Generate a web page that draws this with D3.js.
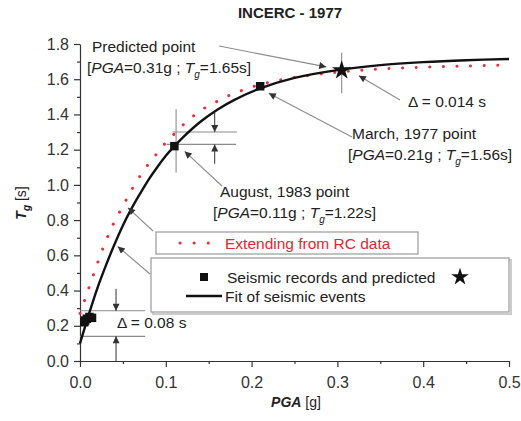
<!DOCTYPE html>
<html><head><meta charset="utf-8">
<script src="https://cdn.jsdelivr.net/npm/d3@7"></script>
<style>
body{margin:0;background:#fff;}
svg{display:block;font-family:"Liberation Sans",Arial,sans-serif;}
</style></head>
<body>
<svg id="chart" width="521" height="421"></svg>
<script>
// ---- data ----
const xTicks = [0.0, 0.1, 0.2, 0.3, 0.4, 0.5];
const yTicks = [0.0, 0.2, 0.4, 0.6, 0.8, 1.0, 1.2, 1.4, 1.6, 1.8];
const fitPGA = [0.0, 0.01, 0.02, 0.03, 0.04, 0.05, 0.06, 0.07, 0.08, 0.09, 0.10, 0.11, 0.12, 0.14, 0.16, 0.18, 0.21, 0.25, 0.30, 0.35, 0.40, 0.45, 0.50];
const fitTg  = [0.10, 0.26, 0.41, 0.54, 0.66, 0.77, 0.865, 0.95, 1.03, 1.10, 1.165, 1.22, 1.27, 1.357, 1.427, 1.483, 1.548, 1.608, 1.652, 1.68, 1.697, 1.708, 1.715];
const rcPGA = [0.0, 0.005, 0.01, 0.02, 0.03, 0.04, 0.05, 0.06, 0.07, 0.08, 0.09, 0.10, 0.11, 0.12, 0.14, 0.16, 0.18, 0.21, 0.25, 0.30, 0.35, 0.40, 0.45, 0.50];
const rcTg  = [0.27, 0.34, 0.41, 0.55, 0.68, 0.79, 0.88, 0.97, 1.05, 1.12, 1.18, 1.24, 1.29, 1.34, 1.42, 1.475, 1.52, 1.57, 1.61, 1.64, 1.658, 1.668, 1.675, 1.68];
const recordPGA = [0.005, 0.008, 0.011, 0.014, 0.006, 0.11, 0.21];
const recordTg  = [0.22, 0.24, 0.25, 0.245, 0.23, 1.22, 1.56];
const predictedPGA = [0.305];
const predictedTg  = [1.65];

// ---- setup ----
const svg = d3.select("#chart");
const x = d3.scaleLinear().domain([0, 0.5]).range([80, 509]);
const y = d3.scaleLinear().domain([0, 1.8]).range([361, 44]);
const gray = "#8c8c8c";
const FONT = 15.5;

// arrow markers
const defs = svg.append("defs");
defs.append("marker").attr("id","ah").attr("viewBox","0 0 10 10").attr("refX",10).attr("refY",5)
  .attr("markerWidth",9).attr("markerHeight",7).attr("markerUnits","userSpaceOnUse").attr("orient","auto")
  .append("path").attr("d","M0,0 L10,5 L0,10 z").attr("fill","#333");

// title
svg.append("text").attr("x",290).attr("y",18).attr("text-anchor","middle")
  .attr("font-weight","bold").attr("font-size",15).attr("fill","#222").text("INCERC - 1977");

// axes
const ax = svg.append("g").attr("transform",`translate(0,${y(0)})`)
  .call(d3.axisBottom(x).tickValues(xTicks).tickFormat(d3.format(".1f")).tickSize(6).tickSizeOuter(0));
svg.append("g").attr("transform",`translate(0,${y(0)})`)
  .call(d3.axisBottom(x).tickValues([0.05,0.15,0.25,0.35,0.45]).tickFormat("").tickSize(3).tickSizeOuter(0))
  .select(".domain").remove();
const ay = svg.append("g").attr("transform",`translate(${x(0)},0)`)
  .call(d3.axisLeft(y).tickValues(yTicks).tickFormat(d3.format(".1f")).tickSize(6).tickSizeOuter(0));
svg.append("g").attr("transform",`translate(${x(0)},0)`)
  .call(d3.axisLeft(y).tickValues([0.1,0.3,0.5,0.7,0.9,1.1,1.3,1.5,1.7]).tickFormat("").tickSize(3).tickSizeOuter(0))
  .select(".domain").remove();
svg.selectAll(".tick line,.domain").attr("stroke","#333").attr("stroke-width",1.2);
svg.selectAll(".tick text").attr("font-size",16).attr("fill","#333").attr("font-family","Liberation Sans, Arial, sans-serif");
ax.selectAll(".tick text").attr("dy","1.1em");
ay.selectAll(".tick text").attr("x",-11);

// axis labels
const xl = svg.append("text").attr("x",296).attr("y",407).attr("text-anchor","middle").attr("font-size",14).attr("fill","#222");
xl.append("tspan").attr("font-weight","bold").attr("font-style","italic").text("PGA");
xl.append("tspan").text(" [g]");
const yl = svg.append("text").attr("transform","translate(26,203) rotate(-90)").attr("text-anchor","middle").attr("font-size",14).attr("fill","#222");
yl.append("tspan").attr("font-weight","bold").attr("font-style","italic").text("T");
yl.append("tspan").attr("font-weight","bold").attr("font-style","italic").attr("font-size",10).attr("dy",4).text("g");
yl.append("tspan").attr("dy",-4).text(" [s]");

// helper lines
function seg(x1,y1,x2,y2,opts={}){
  const l = svg.append("line").attr("x1",x1).attr("y1",y1).attr("x2",x2).attr("y2",y2)
    .attr("stroke",opts.color||gray).attr("stroke-width",opts.w||1.1);
  if(opts.arrow) l.attr("marker-end","url(#ah)");
  return l;
}

// error bars / deltas
seg(x(0.112), y(1.43), x(0.112), y(1.07));
seg(x(0.108), y(1.30), x(0.183), y(1.30));
seg(x(0.101), y(1.23), x(0.182), y(1.23));
seg(x(0.157), y(1.41), x(0.157), y(1.30), {color:"#333",w:1,arrow:true});
seg(x(0.157), y(1.12), x(0.157), y(1.23), {color:"#333",w:1,arrow:true});
seg(x(0.305), y(1.75), x(0.305), y(1.52));
seg(x(0), y(0.285), x(0.076), y(0.285));
seg(x(0), y(0.14), x(0.076), y(0.14));
seg(x(0.042), y(0.41), x(0.042), y(0.285), {color:"#333",w:1,arrow:true});
seg(x(0.042), y(0.0), x(0.042), y(0.14), {color:"#333",w:1,arrow:true});

// curves
const line = d3.line().x(d=>x(d[0])).y(d=>y(d[1])).curve(d3.curveCatmullRom.alpha(0.5));
svg.append("path").datum(rcPGA.map((v,i)=>[v,rcTg[i]])).attr("d",line)
  .attr("fill","none").attr("stroke","#e8303a").attr("stroke-width",3)
  .attr("stroke-dasharray","0.1,13.5").attr("stroke-linecap","round");
svg.append("path").datum(fitPGA.map((v,i)=>[v,fitTg[i]])).attr("d",line)
  .attr("fill","none").attr("stroke","#111").attr("stroke-width",2.4);

// points
svg.selectAll(".rec").data(recordPGA.map((v,i)=>[v,recordTg[i]])).enter().append("path")
  .attr("d",d3.symbol(d3.symbolSquare,72)).attr("transform",d=>`translate(${x(d[0])},${y(d[1])})`).attr("fill","#111");
svg.selectAll(".pred").data(predictedPGA.map((v,i)=>[v,predictedTg[i]])).enter().append("path")
  .attr("d",d3.symbol(d3.symbolStar,115)).attr("transform",d=>`translate(${x(d[0])},${y(d[1])})`).attr("fill","#111");

// annotation arrows
seg(219,46, x(0.287), y(1.67), {arrow:true});
seg(400,100, x(0.325), y(1.62), {arrow:true});
seg(352,137, x(0.22), y(1.52), {arrow:true});
seg(222,186, x(0.122), y(1.19), {arrow:true});
seg(153,231, x(0.056), y(0.87), {arrow:true});
seg(150,274, x(0.044), y(0.65), {arrow:true});

// annotation texts
function ann(xp, yp, parts){
  const t = svg.append("text").attr("x",xp).attr("y",yp).attr("font-size",FONT).attr("fill","#222");
  parts.forEach(p=>{
    const s = t.append("tspan").text(p.t);
    if(p.i) s.attr("font-style","italic");
    if(p.sub){ s.attr("font-size",10).attr("dy",5); }
    if(p.up){ s.attr("dy",-5); }
  });
  return t;
}
function bracket(xp, yp, pga, tg){
  return ann(xp, yp, [{t:"["},{t:"PGA",i:true},{t:"="+pga+"g ; "},{t:"T",i:true},{t:"g",i:true,sub:true},{t:"="+tg+"s]",up:true}]);
}
ann(92, 52, [{t:"Predicted point"}]);
bracket(87, 73, "0.31", "1.65");
ann(408, 107, [{t:"\u0394 = 0.014 s"}]);
ann(352, 139, [{t:"March, 1977 point"}]);
bracket(348, 160, "0.21", "1.56");
ann(220, 197, [{t:"August, 1983 point"}]);
bracket(213, 218, "0.11", "1.22");
ann(117, 328, [{t:"\u0394 = 0.08 s"}]);

// legend box 1
svg.append("rect").attr("x",156).attr("y",232).attr("width",262).attr("height",22)
  .attr("fill","#fff").attr("stroke","#999").attr("stroke-width",1.2);
svg.append("line").attr("x1",180).attr("x2",215).attr("y1",243).attr("y2",243)
  .attr("stroke","#e8303a").attr("stroke-width",3).attr("stroke-dasharray","0.1,14").attr("stroke-linecap","round");
svg.append("text").attr("x",225).attr("y",249).attr("font-size",FONT).attr("fill","#e0282f").text("Extending from RC data");

// legend box 2
svg.append("rect").attr("x",152).attr("y",259).attr("width",358).attr("height",54)
  .attr("fill","none").attr("stroke","#ccc").attr("stroke-width",2).attr("transform","translate(1,1)");
svg.append("rect").attr("x",151).attr("y",258).attr("width",358).attr("height",54)
  .attr("fill","#fff").attr("stroke","#999").attr("stroke-width",1.2);
svg.append("path").attr("d",d3.symbol(d3.symbolSquare,64)).attr("transform","translate(204,277)").attr("fill","#111");
svg.append("text").attr("x",227).attr("y",283).attr("font-size",FONT).attr("fill","#222").text("Seismic records and predicted");
svg.append("path").attr("d",d3.symbol(d3.symbolStar,95)).attr("transform","translate(460,277)").attr("fill","#111");
svg.append("line").attr("x1",186).attr("x2",222).attr("y1",296).attr("y2",296).attr("stroke","#111").attr("stroke-width",2.4);
svg.append("text").attr("x",225).attr("y",302).attr("font-size",FONT).attr("fill","#222").text("Fit of seismic events");
</script>
</body></html>
